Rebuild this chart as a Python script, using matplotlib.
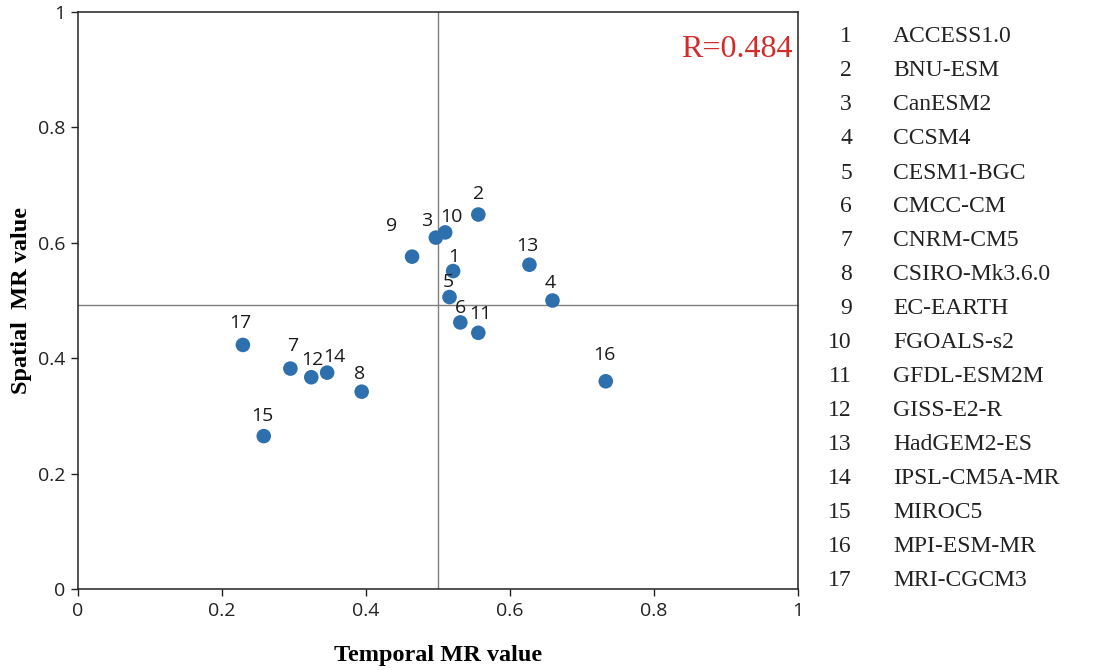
import numpy as np
import matplotlib
matplotlib.use("Agg")
import matplotlib.pyplot as plt

models = ['ACCESS1.0', 'BNU-ESM', 'CanESM2', 'CCSM4', 'CESM1-BGC', 'CMCC-CM',
          'CNRM-CM5', 'CSIRO-Mk3.6.0', 'EC-EARTH', 'FGOALS-s2', 'GFDL-ESM2M',
          'GISS-E2-R', 'HadGEM2-ES', 'IPSL-CM5A-MR', 'MIROC5', 'MPI-ESM-MR',
          'MRI-CGCM3']
temporal_mr = [0.521, 0.556, 0.497, 0.659, 0.516, 0.531, 0.295, 0.394, 0.464,
               0.510, 0.556, 0.324, 0.627, 0.346, 0.258, 0.733, 0.229]
spatial_mr = [0.551, 0.649, 0.609, 0.500, 0.506, 0.462, 0.382, 0.342, 0.576,
              0.618, 0.444, 0.367, 0.562, 0.375, 0.265, 0.360, 0.423]
temporal_ref = 0.5
spatial_ref = 0.492
r_value = 0.484

# label offsets (pixels) so the numbers don't collide
offsets = [(1, 14), (0, 21), (-9, 17), (-2, 17), (-1, 15), (0, 14), (2, 23),
           (-2, 18), (-21, 31), (6, 15), (2, 19), (1, 17), (-2, 19), (7, 16),
           (-1, 20), (-1, 26), (-3, 22)]

W, H = 1095, 670
fig = plt.figure(figsize=(W / 100, H / 100), dpi=100)
ax = fig.add_axes([78 / W, 1 - 589 / H, 720 / W, 577 / H])

ax.axvline(temporal_ref, color='#7f7f7f', lw=1.0, zorder=1)
ax.axhline(spatial_ref, color='#7f7f7f', lw=1.0, zorder=1)

ax.scatter(temporal_mr, spatial_mr, s=110, color='#2e6fae', zorder=3,
           edgecolors='none')

for i, (x, y) in enumerate(zip(temporal_mr, spatial_mr)):
    ax.annotate(str(i + 1), (x, y), xytext=offsets[i],
                textcoords='offset pixels', ha='center', va='center',
                fontsize=14, family='Open Sans', color='#1a1a1a', zorder=4)

ax.text(0.992, 0.935, 'R=%.3f' % r_value, transform=ax.transAxes,
        ha='right', va='center', fontsize=23, family='Liberation Serif',
        color='#d42a2a')

ax.set_xlim(0, 1)
ax.set_ylim(0, 1)
ticks = [0, 0.2, 0.4, 0.6, 0.8, 1]
tick_labels = ['0', '0.2', '0.4', '0.6', '0.8', '1']
ax.set_xticks(ticks)
ax.set_xticklabels(tick_labels)
ax.set_yticks(ticks)
ax.set_yticklabels(tick_labels)
ax.tick_params(direction='out', length=5, width=1, labelsize=14,
               colors='#222222', pad=4)
for lab in ax.get_xticklabels() + ax.get_yticklabels():
    lab.set_family('Open Sans')
for sp in ax.spines.values():
    sp.set_linewidth(1.1)
    sp.set_color('#222222')

ax.set_xlabel('Temporal MR value', fontsize=17.5, family='Liberation Serif',
              fontweight='bold', labelpad=18)
ax.set_ylabel('Spatial  MR value', fontsize=17.5, family='Liberation Serif',
              fontweight='bold', labelpad=4)

# model list on the right
for i, name in enumerate(models):
    y = 1 - (37 + 34 * i) / H
    fig.text(852 / W, y, str(i + 1), ha='right', va='center', fontsize=17,
             family='Liberation Serif', color='#222222')
    fig.text(893 / W, y, name, ha='left', va='center', fontsize=17,
             family='Liberation Serif', color='#222222')

fig.savefig('out.png', dpi=100)
